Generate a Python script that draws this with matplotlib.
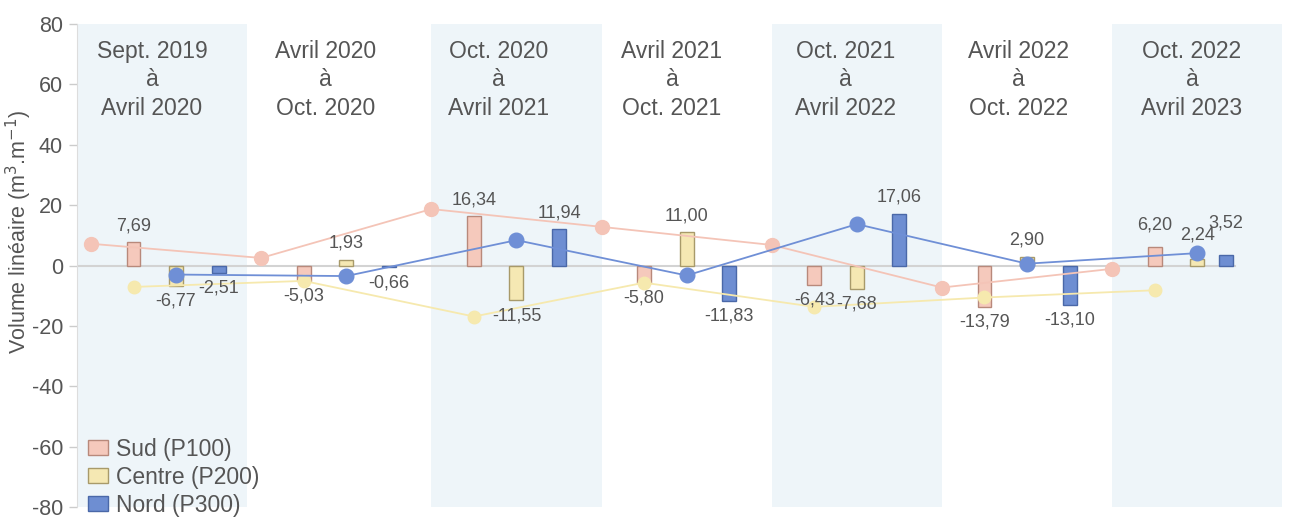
import numpy as np
import matplotlib
matplotlib.use("Agg")
import matplotlib.pyplot as plt
from matplotlib.patches import Patch

plt.rcParams["font.family"] = ["Liberation Sans", "DejaVu Sans"]
plt.rcParams["axes.unicode_minus"] = False

# ---- data -----------------------------------------------------------------
periods = [
    "Sept. 2019\nà\nAvril 2020",
    "Avril 2020\nà\nOct. 2020",
    "Oct. 2020\nà\nAvril 2021",
    "Avril 2021\nà\nOct. 2021",
    "Oct. 2021\nà\nAvril 2022",
    "Avril 2022\nà\nOct. 2022",
    "Oct. 2022\nà\nAvril 2023",
]
series = ["Sud (P100)", "Centre (P200)", "Nord (P300)"]

sud_bars = [7.69, -5.03, 16.34, -5.80, -6.43, -13.79, 6.20]
centre_bars = [-6.77, 1.93, -11.55, 11.00, -7.68, 2.90, 2.24]
nord_bars = [-2.51, -0.66, 11.94, -11.83, 17.06, -13.10, 3.52]

# lines
sud_line = [7.2, 2.5, 18.7, 12.8, 6.8, -7.3, -1.1]
centre_line = [-7.1, -5.1, -16.9, -5.7, -13.7, -10.6, -8.2]
nord_line = [-3.0, -3.5, 8.4, -3.3, 13.7, 0.6, 4.1]

# ---- style ----------------------------------------------------------------
fills = ["#f5c9bc", "#f5e8b3", "#6e8ed2"]
edges = ["#b8897b", "#a89a6a", "#4a68a8"]
line_cols = ["#f4c4b7", "#f6e9ae", "#6f8fd6"]
band_col = "#eef5f9"
txt_col = "#555555"

W, H = 1290, 518
fig = plt.figure(figsize=(W / 100, H / 100), dpi=100)
# axes: x 77..1282 px, y 24 (80) .. 507 (-80) px
ax = fig.add_axes([77 / W, (H - 507) / H, 1205 / W, 483 / H])
XL = (-0.582, 6.498)
ax.set_xlim(*XL)
ax.set_ylim(-80, 80)

x = np.arange(len(periods))

# shaded bands on every other period (first one starts at the axis)
for i in range(0, len(periods), 2):
    lo = XL[0] if i == 0 else i - 0.5
    ax.axvspan(lo, lo + 1.0, color=band_col, zorder=0, lw=0)

# zero line
ax.plot([XL[0], 6.22], [0, 0], color="#d3d3d3", lw=1.5, zorder=1)

# bars
bw = 0.082
offsets = [np.full(7, -0.25), np.zeros(7), np.array([0.25] * 6 + [0.17])]
nudge = {(6, 0): 4, (6, 1): 5, (6, 2): 11}
for k, vals in enumerate([sud_bars, centre_bars, nord_bars]):
    xs = x + offsets[k]
    ax.bar(xs, vals, width=bw, color=fills[k], edgecolor=edges[k],
           linewidth=1, zorder=2)
    for i, (xx, v) in enumerate(zip(xs, vals)):
        lab = f"{v:.2f}".replace(".", ",")
        dy = 12 + nudge.get((i, k), 0)
        ax.annotate(lab, (xx, v), xytext=(0, dy if v >= 0 else -11),
                    textcoords="offset points", ha="center", va="center",
                    fontsize=13, color=txt_col, zorder=5)

# lines (each sits one slot left of its bars)
line_x = [x - 0.5, x - 0.25, x]
msize = [10, 9, 10.5]
for k, vals in enumerate([sud_line, centre_line, nord_line]):
    ax.plot(line_x[k], vals, color=line_cols[k], lw=1.3, marker="o",
            ms=msize[k], mec=line_cols[k], zorder=3)

# period titles
for k, p in enumerate(periods):
    ax.text(-0.141 + 1.0183 * k, 61.5, p, ha="center", va="center",
            fontsize=16.5, color=txt_col, linespacing=1.3, zorder=5)

# axes styling
ax.set_yticks(range(-80, 81, 20))
ax.set_xticks([])
ax.tick_params(axis="y", labelsize=15.5, colors="#cccccc", labelcolor=txt_col,
               length=6, width=1, pad=4)
for s in ["top", "right", "bottom"]:
    ax.spines[s].set_visible(False)
ax.spines["left"].set_color("#dddddd")
fig.text(19 / W, 1 - 232 / H, "Volume linéaire (m$^{3}$.m$^{-1}$)",
         rotation=90, ha="center", va="center", fontsize=15.5, color=txt_col)

handles = [Patch(facecolor=fills[k], edgecolor=edges[k], label=series[k])
           for k in range(3)]
ax.legend(handles=handles, loc="lower left", bbox_to_anchor=(11 / 1205, -0.02),
          frameon=False, fontsize=16.5, handlelength=0.87, handleheight=0.6,
          handletextpad=0.35, labelspacing=0.22, borderaxespad=0, borderpad=0,
          labelcolor=txt_col)

fig.savefig("out.png", dpi=100)
